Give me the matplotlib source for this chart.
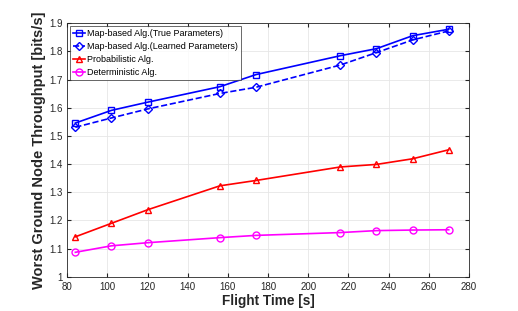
import matplotlib
matplotlib.use("Agg")
import matplotlib.pyplot as plt

flight_time = [84, 102, 120, 156, 174, 216, 234, 252, 270]
true_params = [1.546, 1.591, 1.620, 1.675, 1.718, 1.785, 1.810, 1.856, 1.879]
learned_params = [1.531, 1.564, 1.596, 1.651, 1.673, 1.752, 1.796, 1.841, 1.873]
probabilistic = [1.142, 1.190, 1.238, 1.323, 1.342, 1.390, 1.399, 1.419, 1.451]
deterministic = [1.087, 1.110, 1.121, 1.139, 1.147, 1.157, 1.164, 1.166, 1.167]

labels = ["Map-based Alg.(True Parameters)", "Map-based Alg.(Learned Parameters)",
          "Probabilistic Alg.", "Deterministic Alg."]
xticks = [80, 100, 120, 140, 160, 180, 200, 220, 240, 260, 280]
yticks = [1, 1.1, 1.2, 1.3, 1.4, 1.5, 1.6, 1.7, 1.8, 1.9]

plt.rcParams['font.family'] = ['Liberation Sans', 'DejaVu Sans']
fig = plt.figure(figsize=(5.18, 3.11), dpi=100)
ax = fig.add_axes([0.130, 0.110, 0.775, 0.815])

ax.plot(flight_time, true_params, '-s', color='#0000ff', lw=1.2, ms=4.5, mfc='none', mew=1.0, label=labels[0])
ax.plot(flight_time, learned_params, '--D', color='#0000ff', lw=1.2, ms=4.5, mfc='none', mew=1.0, label=labels[1])
ax.plot(flight_time, probabilistic, '-^', color='#ff0000', lw=1.2, ms=5, mfc='none', mew=1.0, label=labels[2])
ax.plot(flight_time, deterministic, '-o', color='#ff00ff', lw=1.2, ms=5, mfc='none', mew=1.0, label=labels[3])

ax.set_xlim(80, 280)
ax.set_ylim(1, 1.9)
ax.set_xticks(xticks)
ax.set_yticks(yticks)
ax.set_yticklabels([f"{v:g}" for v in yticks])
ax.tick_params(labelsize=7, colors='#262626', direction='in', length=3, top=True, right=True)
ax.grid(True, color='#e6e6e6', lw=0.6)
for s in ax.spines.values():
    s.set_color('#262626')
    s.set_linewidth(0.6)

ax.set_xlabel("Flight Time [s]", fontsize=9.8, fontweight='bold', color='#262626', labelpad=2)
ax.set_ylabel("Worst Ground Node Throughput [bits/s]", fontsize=10.5, fontweight='bold', color='#262626', labelpad=2)

leg = ax.legend(loc='upper left', fontsize=6.5, frameon=True, fancybox=False, borderpad=0.35,
                labelspacing=0.45, handlelength=1.4, handletextpad=0.2, borderaxespad=0.25)
leg.get_frame().set_edgecolor('#262626')
leg.get_frame().set_linewidth(0.6)

fig.savefig("out.png", dpi=100)
